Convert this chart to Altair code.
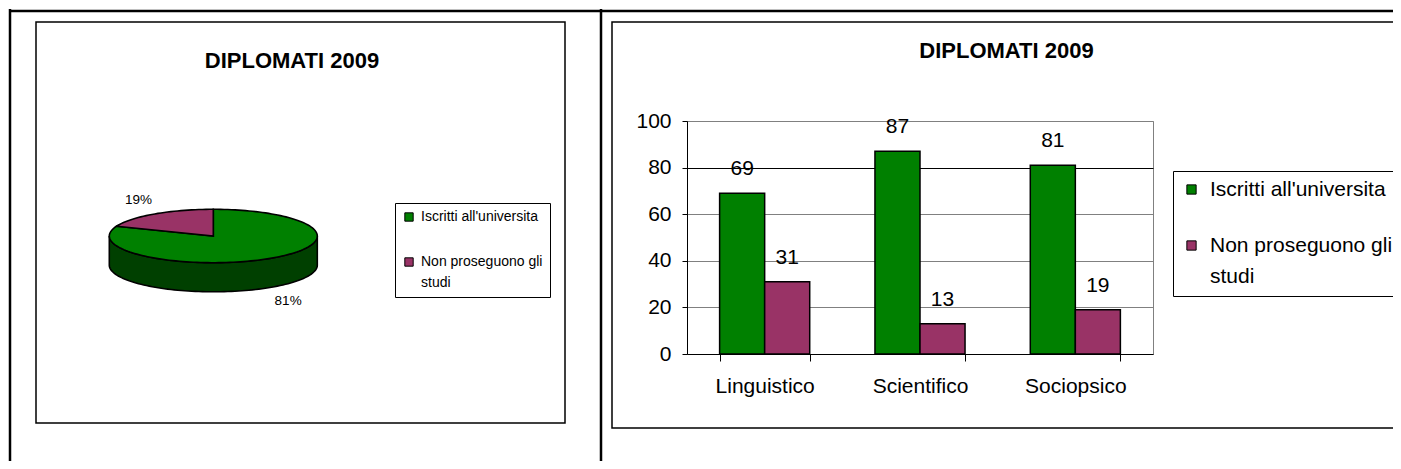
import math
import altair as alt
import pandas as pd

# ---------------- data ----------------
title_text = "DIPLOMATI 2009"
series = ["Iscritti all'universita", "Non proseguono gli studi"]
colors = ["#008000", "#993366"]
side_color = "#004000"
pie_values = [81, 19]
categories = ["Linguistico", "Scientifico", "Sociopsico"]
iscritti = [69, 87, 81]
non_proseguono = [31, 13, 19]
y_ticks = [0, 20, 40, 60, 80, 100]

FONT = "Liberation Sans"

bar_df = pd.DataFrame({
    "corso": categories * 2,
    "serie": [series[0]] * len(categories) + [series[1]] * len(categories),
    "valore": iscritti + non_proseguono,
})

# ---- pie outline built from the shares (unit circle, squashed by the scales) ----
DEPTH = 1.09
total = float(sum(pie_values))
pie_rows, lab_rows = [], []
start = 90.0
for name, v in zip(series, pie_values):
    sweep = 360.0 * v / total
    n = max(int(sweep / 2), 2)
    pie_rows.append({"serie": name, "i": 0, "px": 0.0, "py": 0.0})
    for k in range(n + 1):
        a = math.radians(start - sweep * k / n)
        pie_rows.append({"serie": name, "i": k + 1, "px": math.cos(a), "py": math.sin(a)})
    mid = math.radians(start - sweep / 2)
    ly = 1.64 * math.sin(mid)
    if math.sin(mid) < 0:
        ly -= DEPTH
    lab_rows.append({"lab": f"{v / total * 100:.0f}%", "px": 1.28 * math.cos(mid), "py": ly})
    start -= sweep
pie_df = pd.DataFrame(pie_rows)
lab_df = pd.DataFrame(lab_rows)

side_rows = []
m = 90
for k in range(m + 1):
    a = math.radians(180 + 180 * k / m)
    side_rows.append({"i": k, "px": math.cos(a), "py": math.sin(a)})
for k in range(m + 1):
    a = math.radians(360 - 180 * k / m)
    side_rows.append({"i": m + 1 + k, "px": math.cos(a), "py": math.sin(a) - DEPTH})
side_df = pd.DataFrame(side_rows)

one = pd.DataFrame({"d": [0]})

# legend labels: the second series wraps after "gli"
first_part, second_part = "Non proseguono gli", "studi"
LABEL_EXPR = ("datum.label == \"" + series[1] + "\" ? ['" + first_part + "', '" + second_part + "'] : datum.label")

PIE_LEGEND_X, BAR_LEGEND_X = -292, 486
LINE_HEIGHTS = {PIE_LEGEND_X: 21, BAR_LEGEND_X: 31.6}

# ---------------- pie ----------------
xpie = alt.Scale(domain=[-1, 1], range=[-577.7, -369.7], nice=False, zero=False)
ypie = alt.Scale(domain=[-1, 1], range=[141.7, 88.3], nice=False, zero=False)

side = alt.Chart(side_df).mark_line(
    fill=side_color, stroke="black", strokeWidth=1.6, interpolate="linear-closed"
).encode(
    x=alt.X("px:Q", scale=xpie, axis=None),
    y=alt.Y("py:Q", scale=ypie, axis=None),
    order="i:Q",
)

pie_legend = alt.Legend(
    orient="none", legendX=PIE_LEGEND_X, legendY=82, title=None,
    labelFont=FONT, labelFontSize=14, labelColor="black", labelOffset=5, labelLimit=400,
    symbolType="square", symbolSize=70, symbolStrokeColor="black", symbolStrokeWidth=1,
    strokeColor="black", fillColor="white", padding=7, rowPadding=31,
    labelExpr=LABEL_EXPR,
)

slices = alt.Chart(pie_df).mark_line(
    stroke="black", strokeWidth=1.6, interpolate="linear-closed"
).encode(
    x=alt.X("px:Q", scale=xpie, axis=None),
    y=alt.Y("py:Q", scale=ypie, axis=None),
    order="i:Q",
    fill=alt.Fill("serie:N", scale=alt.Scale(domain=series, range=colors), legend=pie_legend),
)

pie_labels = alt.Chart(lab_df).mark_text(font=FONT, fontSize=13.5, color="black").encode(
    x=alt.X("px:Q", scale=xpie, axis=None),
    y=alt.Y("py:Q", scale=ypie, axis=None),
    text="lab:N",
)

pie_layer = alt.layer(side, slices, pie_labels)

# ---------------- bars ----------------
xband = alt.Scale(domain=categories, paddingInner=0.42, paddingOuter=0.21)
xoff = alt.Scale(domain=series)
yscale = alt.Scale(domain=[0, 100], nice=False)

x_axis = alt.Axis(
    tickBand="extent", tickSize=7, domainColor="black", tickColor="black",
    labelFont=FONT, labelFontSize=21, labelColor="black", labelPadding=14,
    labelAngle=0, grid=False, title=None)
y_axis = alt.Axis(
    values=y_ticks, grid=True,
    gridColor={"condition": {"test": "datum.value === 80", "value": "black"}, "value": "#808080"},
    domainColor="black", tickColor="black", tickSize=5,
    labelFont=FONT, labelFontSize=21, labelColor="black", labelPadding=11, title=None)

bar_legend = alt.Legend(
    orient="none", legendX=BAR_LEGEND_X, legendY=50, title=None,
    labelFont=FONT, labelFontSize=21, labelColor="black", labelOffset=8, labelLimit=400,
    symbolType="square", symbolSize=86, symbolStrokeColor="black", symbolStrokeWidth=1,
    strokeColor="black", fillColor="white", padding=8, rowPadding=34,
    labelExpr=LABEL_EXPR,
)

bars = alt.Chart(bar_df).mark_bar(stroke="black", strokeWidth=1.5).encode(
    x=alt.X("corso:N", scale=xband, axis=x_axis),
    xOffset=alt.XOffset("serie:N", scale=xoff),
    y=alt.Y("valore:Q", scale=yscale, axis=y_axis),
    fill=alt.Fill("serie:N", scale=alt.Scale(domain=series, range=colors), legend=bar_legend),
)

vals = alt.Chart(bar_df).mark_text(
    font=FONT, fontSize=21, color="black", baseline="alphabetic", dy=-18
).encode(
    x=alt.X("corso:N", scale=xband, axis=x_axis),
    xOffset=alt.XOffset("serie:N", scale=xoff),
    y=alt.Y("valore:Q", scale=yscale, axis=y_axis),
    text="valore:Q",
)

bar_layer = alt.layer(bars, vals)


# ---------------- page decorations ----------------
def frame(x1, x2, y1, y2, w=1.5):
    return alt.Chart(one).mark_rect(fill="white", fillOpacity=0, stroke="black", strokeWidth=w).encode(
        x=alt.value(x1), x2=alt.value(x2), y=alt.value(y1), y2=alt.value(y2))


def rule(x1, x2, y1, y2, w=2.5):
    return alt.Chart(one).mark_rule(color="black", strokeWidth=w).encode(
        x=alt.value(x1), x2=alt.value(x2), y=alt.value(y1), y2=alt.value(y2))


def title(x, y):
    return alt.Chart(one).mark_text(
        text=title_text, font=FONT, fontSize=22, fontWeight="bold", color="black", baseline="middle"
    ).encode(x=alt.value(x), y=alt.value(y))


deco = alt.layer(
    frame(-651, -122, -99, 302),
    frame(-75, 725, -99, 307),
    rule(-677, -677, -112, 360),
    rule(-678, 730, -110, -110),
    rule(-86, -86, -112, 360),
    title(-395, -60.5),
    title(319.5, -69.7),
)

chart = alt.layer(deco, pie_layer, bar_layer).resolve_scale(
    x="independent", y="independent", fill="independent"
).properties(
    width=466, height=233,
    autosize=alt.AutoSizeParams(type="none"),
    padding={"left": 679, "top": 113, "right": 240, "bottom": 107},
).configure(
    view=alt.ViewConfig(stroke="#808080", strokeWidth=1),
)


# per-legend line height for the wrapped label (Vega-Lite legend "encoding" block,
# added after schema validation)
def _inject(obj):
    if isinstance(obj, dict):
        lx = obj.get("legendX")
        if "labelExpr" in obj and lx in LINE_HEIGHTS:
            obj["encoding"] = {"labels": {"lineHeight": {"value": LINE_HEIGHTS[lx]}}}
        for v in obj.values():
            _inject(v)
    elif isinstance(obj, list):
        for v in obj:
            _inject(v)


class _Layer(alt.LayerChart):
    def to_dict(self, *args, **kwargs):
        d = super().to_dict(*args, **kwargs)
        _inject(d)
        return d


object.__setattr__(chart, "__class__", _Layer)

chart.save("out.html", embed_options={"renderer": "svg", "actions": False})
